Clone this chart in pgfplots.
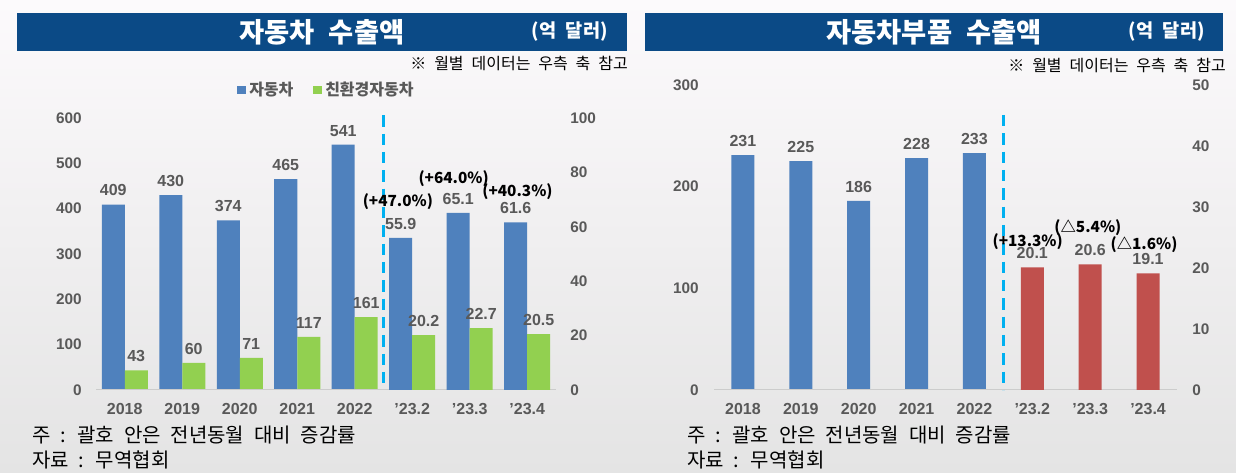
\documentclass[border=0pt]{standalone}
\usepackage{fontspec}
\setmainfont{Liberation Sans}
\newfontfamily\kr{Noto Sans CJK KR}
\newfontfamily\krw{Noto Sans CJK KR}[WordSpace=2.2]
\usepackage{pgfplots}
\pgfplotsset{compat=1.18}
\definecolor{barblue}{HTML}{4F81BD}
\definecolor{bargreen}{HTML}{92D050}
\definecolor{barred}{HTML}{C0504D}
\definecolor{titleblue}{HTML}{0B4A86}
\definecolor{txtgray}{HTML}{595959}
\definecolor{dashblue}{HTML}{00B0F0}
\definecolor{bgtop}{HTML}{FCFAFC}
\definecolor{bgbot}{HTML}{E4E4E4}
\newcommand\px[2]{({#1*0.75pt},{(473-#2)*0.75pt})}
\tikzset{pct/.style={font=\kr\bfseries\fontsize{11.5}{14}\selectfont, text=black, inner sep=0pt}}
\pgfplotsset{
  base/.style={
    anchor=south west, scale only axis,
    /pgf/number format/assume math mode=true,
    axis line style={draw=none}, tick style={draw=none}, major tick length=0pt,
    xmin=-0.5, xmax=7.5, ymin=0, clip=false,
    ybar, bar width=17.25pt,
    tick label style={font=\bfseries\fontsize{11.5}{13}\selectfont, text=txtgray},
    xticklabel style={font=\bfseries\fontsize{12}{14}\selectfont, text=txtgray, inner sep=0pt, yshift=-9.6pt},
    nodes near coords,
    nodes near coords style={font=\bfseries\fontsize{12}{14}\selectfont, text=txtgray, inner sep=0pt, yshift=6.2pt},
  },
  lefty/.style={yticklabel style={anchor=east, inner sep=0pt, xshift=-10.5pt}},
  righty/.style={yticklabel pos=right, yticklabel style={anchor=west, inner sep=0pt, xshift=10.5pt}},
}
\begin{document}
\begin{tikzpicture}
\useasboundingbox (0,0) rectangle (927pt,354.75pt);
\shade[top color=bgtop, bottom color=bgbot] (0,0) rectangle (927pt,354.75pt);
% ---------- left panel header ----------
\fill[titleblue] \px{17}{13} rectangle \px{627}{51};
\node[text=white, font=\krw\bfseries\fontsize{20.5}{24}\selectfont, inner sep=0pt] at \px{322}{32} {자동차 수출액};
\node[text=white, font=\krw\bfseries\fontsize{14}{16}\selectfont, anchor=east, inner sep=0pt] at \px{608}{32} {(억 달러)};
\node[font=\krw\fontsize{12}{14}\selectfont, anchor=east, inner sep=0pt] at \px{628}{63.5} {※ 월별 데이터는 우측 축 참고};
\fill[barblue] \px{237}{86} rectangle \px{246}{94};
\node[anchor=west, inner sep=0pt, font=\kr\bfseries\fontsize{12}{14}\selectfont, text=txtgray] at \px{249}{90} {자동차};
\fill[bargreen] \px{313}{86} rectangle \px{322}{94};
\node[anchor=west, inner sep=0pt, font=\kr\bfseries\fontsize{12}{14}\selectfont, text=txtgray] at \px{325}{90} {친환경자동차};
% ---------- right panel header ----------
\fill[titleblue] \px{645}{13} rectangle \px{1223}{51};
\node[text=white, font=\krw\bfseries\fontsize{20.5}{24}\selectfont, inner sep=0pt] at \px{934}{32} {자동차부품 수출액};
\node[text=white, font=\krw\bfseries\fontsize{14}{16}\selectfont, anchor=east, inner sep=0pt] at \px{1205}{32} {(억 달러)};
\node[font=\krw\fontsize{12}{14}\selectfont, anchor=east, inner sep=0pt] at \px{1226}{65} {※ 월별 데이터는 우측 축 참고};
% ---------- footnotes ----------
\node[anchor=west, inner sep=0pt, font=\krw\fontsize{15}{16}\selectfont] at \px{32}{435} {주 : 괄호 안은 전년동월 대비 증감률};
\node[anchor=west, inner sep=0pt, font=\krw\fontsize{15}{16}\selectfont] at \px{32}{460} {자료 : 무역협회};
\node[anchor=west, inner sep=0pt, font=\krw\fontsize{15}{16}\selectfont] at \px{687}{435} {주 : 괄호 안은 전년동월 대비 증감률};
\node[anchor=west, inner sep=0pt, font=\krw\fontsize{15}{16}\selectfont] at \px{687}{460} {자료 : 무역협회};

% ---------- left panel: annual ----------
\begin{axis}[base, lefty, at={(72pt,62.25pt)}, width=345pt, height=204pt,
  ymax=600, ytick={0,100,...,600},
  xtick={0,...,7}, xticklabels={2018,2019,2020,2021,2022,'23.2,'23.3,'23.4}]
\addplot[fill=barblue, draw=none, bar shift=-8.625pt] coordinates {(0,409) (1,430) (2,374) (3,465) (4,541)};
\addplot[fill=bargreen, draw=none, bar shift=8.625pt] coordinates {(0,43) (1,60) (2,71) (3,117) (4,161)};
\draw[black!20, line width=0.75pt] (axis cs:-0.5,0) -- (axis cs:7.5,0);
\draw[dashblue, line width=2.25pt, dash pattern=on 8.5pt off 5.25pt] (axis cs:4.5,606) -- (axis cs:4.5,0);
\end{axis}
% ---------- left panel: monthly ----------
\begin{axis}[base, righty, at={(72pt,62.25pt)}, width=345pt, height=204pt,
  ymax=100, ytick={0,20,...,100}, xtick=\empty]
\addplot[fill=barblue, draw=none, bar shift=-8.625pt] coordinates {(5,55.9) (6,65.1) (7,61.6)};
\addplot[fill=bargreen, draw=none, bar shift=8.625pt] coordinates {(5,20.2) (6,22.7) (7,20.5)};
\node[pct] at (axis cs:4.75,69.1) {(+47.0\%)};
\node[pct] at (axis cs:5.72,77.6) {(+64.0\%)};
\node[pct] at (axis cs:6.83,72.8) {(+40.3\%)};
\end{axis}

% ---------- right panel: annual ----------
\begin{axis}[base, lefty, at={(535.5pt,62.25pt)}, width=347.25pt, height=228.75pt,
  ymax=300, ytick={0,100,200,300},
  yticklabel style={xshift=-0.75pt},
  xtick={0,...,7}, xticklabels={2018,2019,2020,2021,2022,'23.2,'23.3,'23.4}]
\addplot[fill=barblue, draw=none, bar shift=0pt] coordinates {(0,231) (1,225) (2,186) (3,228) (4,233)};
\draw[black!20, line width=0.75pt] (axis cs:-0.5,0) -- (axis cs:7.5,0);
\draw[dashblue, line width=2.25pt, dash pattern=on 8.5pt off 5.25pt] (axis cs:4.5,270.5) -- (axis cs:4.5,0);
\end{axis}
% ---------- right panel: monthly ----------
\begin{axis}[base, righty, at={(535.5pt,62.25pt)}, width=347.25pt, height=228.75pt,
  ymax=50, ytick={0,10,...,50}, xtick=\empty,
  yticklabel style={xshift=0.75pt}]
\addplot[fill=barred, draw=none, bar shift=0pt] coordinates {(5,20.1) (6,20.6) (7,19.1)};
\node[pct] at (axis cs:4.92,24.4) {(+13.3\%)};
\node[pct] at (axis cs:5.96,26.7) {(△5.4\%)};
\node[pct] at (axis cs:6.93,23.8) {(△1.6\%)};
\end{axis}
\end{tikzpicture}
\end{document}
